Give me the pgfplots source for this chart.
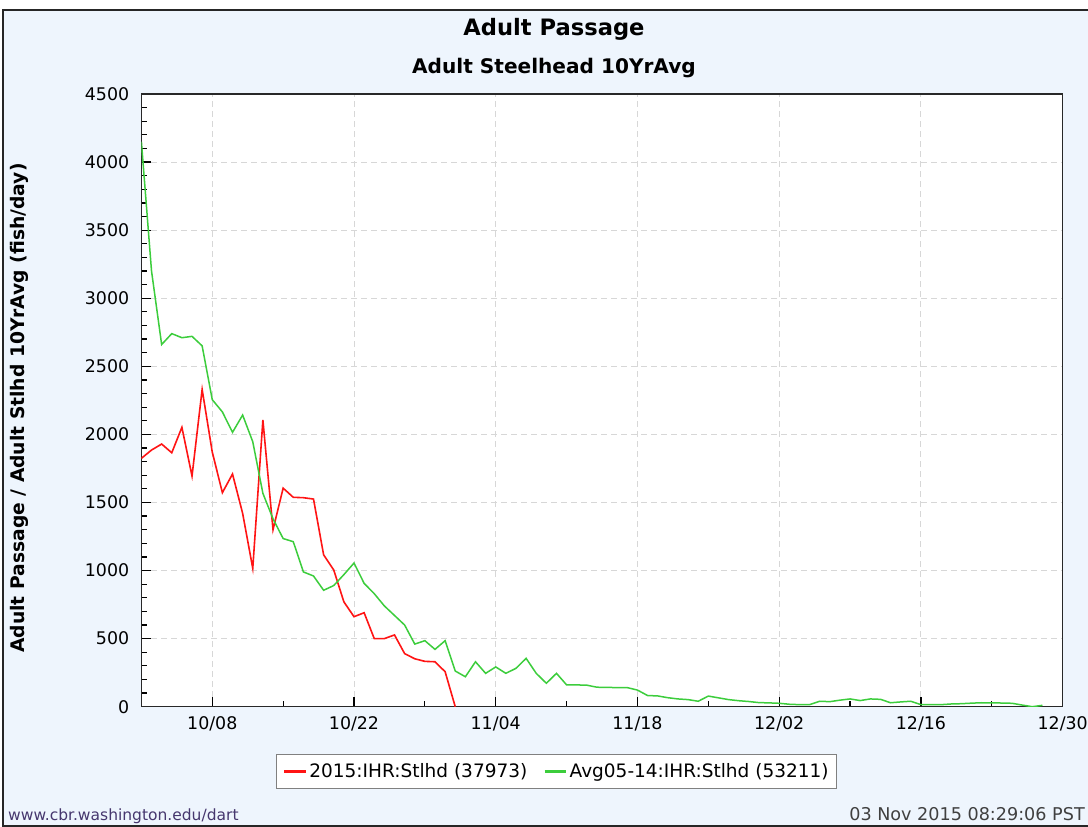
\documentclass[border=0pt]{standalone}
\usepackage{pgfplots}
\pgfplotsset{compat=1.18}
\usepackage{pgfplotstable}
\usepackage{fontspec}
\setmainfont{DejaVu Sans}
\definecolor{panel}{RGB}{238,245,253}
\definecolor{redline}{RGB}{255,20,20}
\definecolor{greenline}{RGB}{60,205,60}
\definecolor{gridc}{RGB}{215,215,215}
\definecolor{urlc}{RGB}{70,55,110}
\definecolor{framec}{RGB}{40,40,40}

\pgfplotstableread{
day val
0 1824
1 1885
2 1929
3 1865
4 2052
5 1694
6 2330
7 1870
8 1572
9 1709
10 1420
11 1016
12 2106
13 1300
14 1605
15 1538
16 1535
17 1525
18 1115
19 1004
20 770
21 661
22 690
23 500
24 500
25 527
26 390
27 352
28 333
29 330
30 257
31 0
}\redtab

\pgfplotstableread{
day val
0 4150
1 3200
2 2660
3 2740
4 2710
5 2720
6 2650
7 2255
8 2165
9 2015
10 2142
11 1946
12 1567
13 1380
14 1235
15 1212
16 990
17 960
18 855
19 890
20 970
21 1055
22 906
23 830
24 740
25 670
26 600
27 460
28 485
29 421
30 485
31 262
32 220
33 330
34 245
35 292
36 245
37 282
38 355
39 245
40 172
41 245
42 160
43 160
44 158
45 143
46 142
47 140
48 140
49 122
50 82
51 79
52 66
53 57
54 52
55 40
56 78
57 65
58 52
59 44
60 38
61 30
62 28
63 25
64 18
65 15
66 15
67 40
68 37
69 48
70 57
71 45
72 57
73 54
74 29
75 35
76 40
77 15
78 15
79 15
80 20
81 22
82 26
83 29
84 28
85 27
86 25
87 12
88 0
89 10
}\greentab

\begin{document}
\begin{tikzpicture}[x=1pt,y=1pt]
\path[use as bounding box] (0,0) rectangle (1088,827);
\fill[white] (0,0) rectangle (1088,827);
\fill[panel] (3,1) rectangle (1088,817);
\draw[black!85, line width=1.5pt] (1088,817) -- (3,817) -- (3,1.2) -- (1088,1.2);
\node[anchor=base, inner sep=0pt, font=\fontsize{22.6}{27}\selectfont\bfseries] at (554,791) {Adult Passage};
\node[anchor=base, inner sep=0pt, font=\fontsize{20.1}{24}\selectfont\bfseries] at (554,753.7) {Adult Steelhead 10YrAvg};
\begin{axis}[
  at={(141.4pt,120.3pt)}, anchor=south west,
  width=921.3pt, height=612.7pt, scale only axis,
  xmin=0, xmax=91, ymin=0, ymax=4500,
  axis background/.style={fill=white},
  axis line style={framec, line width=1.3pt},
  tick pos=left, tick align=inside,
  xtick={7,21,35,49,63,77,91},
  xticklabels={10/08,10/22,11/04,11/18,12/02,12/16,12/30},
  minor xtick={14,28,42,56,70,84},
  ytick={0,500,...,4500},
  minor y tick num=4,
  major tick length=9.5pt, minor tick length=5.5pt,
  tick style={black, line width=1.2pt},
  grid=major,
  major grid style={gridc, line width=1pt, dash pattern=on 6pt off 4pt},
  tick label style={font=\fontsize{17.4}{20}\selectfont},
  yticklabel style={anchor=east, inner sep=0pt, xshift=-12pt},
  xticklabel style={anchor=north, inner sep=0pt, yshift=-10pt},
  /pgf/number format/assume math mode=true,
  /pgf/number format/1000 sep={},
  ylabel={Adult Passage / Adult Stlhd 10YrAvg (fish/day)},
  every axis y label/.style={at={(-0.1328,0.4875)}, rotate=90, anchor=center, inner sep=0pt, font=\fontsize{18.7}{22}\selectfont\bfseries},
  legend columns=2,
  legend style={at={(0.4507,-0.0777)}, anchor=north, draw=gray, line width=1pt, fill=white,
    font=\fontsize{18.5}{22}\selectfont, inner xsep=6pt, inner ysep=7pt,
    nodes={inner sep=2pt},
    /tikz/every even column/.append style={column sep=13.7pt}},
  legend image code/.code={\draw[#1, line width=3pt] (0pt,0pt) -- (21.7pt,0pt);},
]
\addplot[redline, line width=1.6pt] table[x=day, y=val] {\redtab};
\addlegendentry{2015:IHR:Stlhd (37973)}
\addplot[greenline, line width=1.5pt] table[x=day, y=val] {\greentab};
\addlegendentry{Avg05-14:IHR:Stlhd (53211)}
\end{axis}
\node[anchor=base west, inner sep=0pt, font=\fontsize{15.5}{18}\selectfont, text=urlc] at (8,6) {www.cbr.washington.edu/dart};
\node[anchor=base east, inner sep=0pt, font=\fontsize{17.6}{20}\selectfont, text=black!75] at (1085,6) {03 Nov 2015 08:29:06 PST};
\end{tikzpicture}
\end{document}
